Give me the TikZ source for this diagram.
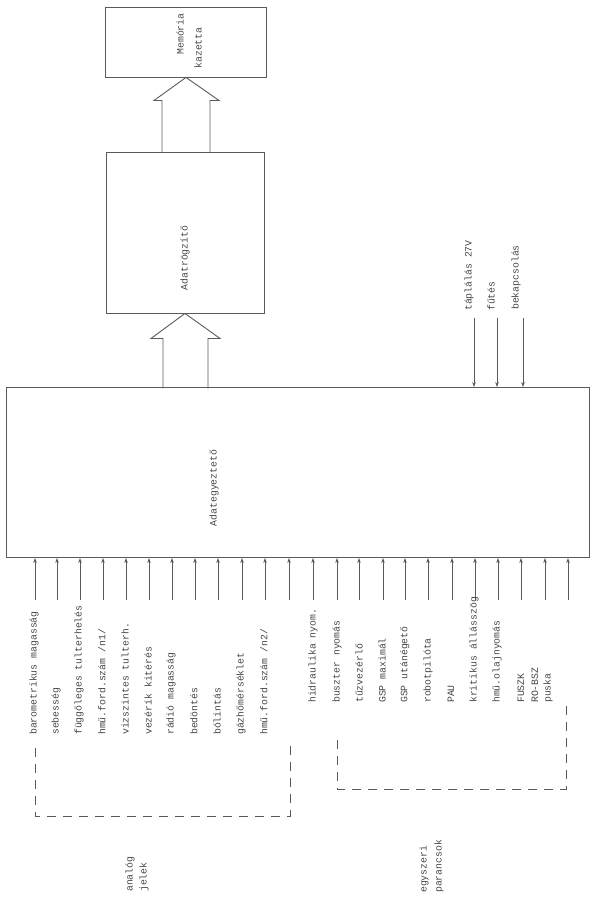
\documentclass[tikz,border=0pt]{standalone}
\usepackage{fontspec}
\setmonofont{Liberation Mono}
\usetikzlibrary{calc,arrows.meta}
\definecolor{linec}{HTML}{5A5A5A}
\definecolor{txtc}{HTML}{454545}
\begin{document}
\begin{tikzpicture}[x=1pt,y=-1pt,
  box/.style={draw=linec, line width=0.9pt, inner sep=0pt},
  sig/.style={draw=linec, line width=0.8pt, -{Stealth[length=5pt,width=3.6pt]}},
  blk/.style={draw=linec, line width=0.9pt, line join=miter},
  lbl/.style={rotate=90, anchor=west, inner sep=0pt, font=\ttfamily\fontsize{9.8}{12}\selectfont, text=txtc},
  grp/.style={draw=linec, line width=0.8pt, dash pattern=on 9pt off 7pt},
]
\useasboundingbox (0,0) rectangle (591,897);

% boxes
\node[box, minimum width=161pt, minimum height=70pt] (mem) at (186,42) {};
\node[lbl, anchor=center] (memt1) at (180,34) {Memória};
\node[lbl, anchor=center] (memt2) at (198,48) {kazetta};

\node[box, minimum width=158pt, minimum height=161pt] (ar) at (185,232.5) {};
\node[lbl, anchor=center] (art) at (185,258) {Adatrögzítő};

\node[box, minimum width=583pt, minimum height=170pt] (main) at (297.5,472.5) {};
\node[lbl, anchor=center] (maint) at (214,488) {Adategyeztető};

% block arrows
\draw[blk] ($(ar.south)+(-22,75)$) -- ++(0,-50) -- ++(-12,0) -- (ar.south)
  -- ++(35,25) -- ++(-12,0) -- ++(0,50);
\draw[blk] ($(mem.south)+(-24,75)$) -- ++(0,-52) -- ++(-8,0) -- (mem.south)
  -- ++(33,23) -- ++(-9,0) -- ++(0,52);

% right inputs
\foreach \x [count=\i] in {474,497,523} {
  \coordinate (p\i) at (\x,318);
  \draw[sig] (p\i) -- (p\i |- main.north);
}
\node[lbl] (r1) at (469,311) {táplálás 27V};
\node[lbl] (r2) at (491,311) {fűtés};
\node[lbl] (r3) at (516,310) {bekapcsolás};

% bottom inputs
\foreach \x [count=\i] in {35,57,80,103,126,149,172,195,218,242,265,289,313,337,359,383,405,428,452,475,498,521,545,568} {
  \coordinate (b\i) at (\x,600);
  \draw[sig] (b\i) -- (b\i |- main.south);
}

% analog labels
\foreach \x/\t [count=\i] in {
  34/{barometrikus magasság},
  56/{sebesség},
  79/{függőleges tulterhelés},
  102/{hmű.ford.szám /n1/},
  125/{vizszintes tulterh.},
  148/{vezérík kitérés},
  171/{rádió magasság},
  194/{bedöntés},
  217/{bólintás},
  241/{gázhőmérséklet},
  264/{hmű.ford.szám /n2/}} {
  \node[lbl] (a\i) at (\x,735) {\t};
}
% discrete labels
\foreach \x/\t [count=\i] in {
  313/{hidraulika nyom.},
  337/{buszter nyomás},
  359/{tűzvezérlő},
  382/{GSP maximál},
  405/{GSP utánégető},
  428/{robotpilóta},
  451/{PAU},
  474/{kritikus állásszög},
  497/{hmű.olajnyomás},
  521/{FUSZK},
  535/{RO-BSZ},
  548/{puska}} {
  \node[lbl] (d\i) at (\x,703) {\t};
}

% group brackets
\draw[grp] (35,748) -- (35,816) -- (290,816) -- (290,740);
\draw[grp] (337,740) -- (337,789) -- (566,789) -- (566,705);

\node[lbl] (g1) at (130,892) {analóg};
\node[lbl] (g2) at (144,892) {jelek};
\node[lbl] (g3) at (424,893) {egyszeri};
\node[lbl] (g4) at (439,893) {parancsok};
\end{tikzpicture}
\end{document}
